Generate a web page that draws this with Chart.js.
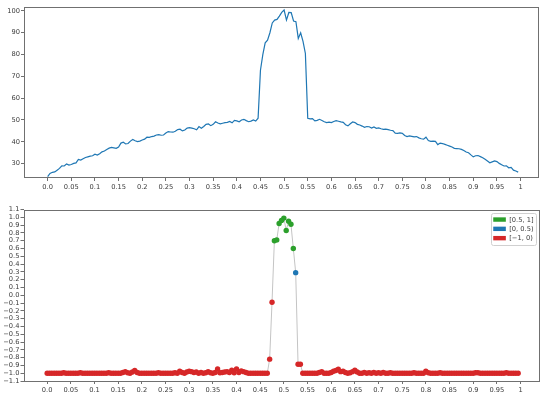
<!DOCTYPE html>
<html><head><meta charset="utf-8">
<script src="https://cdn.jsdelivr.net/npm/chart.js@4"></script>
<style>
html,body{margin:0;padding:0;background:#fff;}
#wrap{position:relative;width:550px;height:397px;overflow:hidden;}
canvas{position:absolute;left:0;}
#c1{top:0}
#c2{top:195px}
</style></head><body>
<div id="wrap"><canvas id="c1" width="550" height="195"></canvas><canvas id="c2" width="550" height="202"></canvas></div>
<script>
const xs=[
0,0.005,0.01,0.015,0.02,0.025,0.03,0.035,0.04,0.045,
0.05,0.055,0.06,0.065,0.07,0.075,0.08,0.085,0.09,0.095,
0.1,0.105,0.11,0.115,0.12,0.125,0.13,0.135,0.14,0.145,
0.15,0.155,0.16,0.165,0.17,0.175,0.18,0.185,0.19,0.195,
0.2,0.205,0.21,0.215,0.22,0.225,0.23,0.235,0.24,0.245,
0.25,0.255,0.26,0.265,0.27,0.275,0.28,0.285,0.29,0.295,
0.3,0.305,0.31,0.315,0.32,0.325,0.33,0.335,0.34,0.345,
0.35,0.355,0.36,0.365,0.37,0.375,0.38,0.385,0.39,0.395,
0.4,0.405,0.41,0.415,0.42,0.425,0.43,0.435,0.44,0.445,
0.45,0.455,0.46,0.465,0.47,0.475,0.48,0.485,0.49,0.495,
0.5,0.505,0.51,0.515,0.52,0.525,0.53,0.535,0.54,0.545,
0.55,0.555,0.56,0.565,0.57,0.575,0.58,0.585,0.59,0.595,
0.6,0.605,0.61,0.615,0.62,0.625,0.63,0.635,0.64,0.645,
0.65,0.655,0.66,0.665,0.67,0.675,0.68,0.685,0.69,0.695,
0.7,0.705,0.71,0.715,0.72,0.725,0.73,0.735,0.74,0.745,
0.75,0.755,0.76,0.765,0.77,0.775,0.78,0.785,0.79,0.795,
0.8,0.805,0.81,0.815,0.82,0.825,0.83,0.835,0.84,0.845,
0.85,0.855,0.86,0.865,0.87,0.875,0.88,0.885,0.89,0.895,
0.9,0.905,0.91,0.915,0.92,0.925,0.93,0.935,0.94,0.945,
0.95,0.955,0.96,0.965,0.97,0.975,0.98,0.985,0.99,0.995];

const topValues=[
24.0,25.5,26.0,26.2,27.0,27.8,29.0,28.9,29.8,29.3,
29.6,30.1,30.3,31.9,31.6,32.2,32.8,33.1,33.4,33.6,
34.3,33.9,34.5,35.4,35.8,36.5,37.1,37.4,37.2,37.0,
37.6,39.4,39.8,39.0,39.2,40.3,41.1,40.5,40.1,40.3,
40.8,41.2,42.1,42.0,42.4,42.6,43.1,43.3,43.0,43.1,
44.0,44.7,44.5,44.4,44.8,45.6,45.8,45.0,45.4,46.3,
46.5,46.3,46.0,45.5,47.0,46.2,47.0,48.0,48.2,47.4,
48.0,49.2,48.6,48.2,48.5,48.8,48.9,49.3,48.7,49.8,
49.6,49.2,50.0,50.3,49.7,49.2,49.5,50.0,49.5,50.8,
72.8,80.0,85.4,86.6,90.0,94.5,95.8,96.1,97.6,99.3,
100.4,95.8,99.3,99.2,95.4,95.1,87.4,90.0,86.0,80.5,
50.8,50.5,50.6,49.6,49.8,50.3,49.8,49.2,48.8,49.0,
48.8,49.3,49.7,49.4,49.1,48.9,47.8,47.3,48.3,49.1,
48.8,48.0,47.7,47.2,46.6,47.0,46.9,46.3,46.8,46.2,
46.4,46.0,45.7,45.8,45.6,45.3,45.1,44.0,43.9,44.1,
43.9,42.9,42.4,42.7,42.5,42.3,42.4,41.8,41.4,41.2,
42.1,40.6,40.2,40.3,40.2,38.7,39.4,39.2,38.8,38.4,
38.0,37.6,37.0,36.9,36.8,36.5,36.0,35.3,35.0,34.0,
33.1,33.6,33.7,33.2,32.7,32.0,31.2,30.4,30.8,31.2,
30.9,30.1,29.5,28.9,29.0,28.1,28.3,27.0,26.6,26.1];

const bottomValues=[
-1,-1,-1,-1,-1,-1,-1,-0.995,-1,-1,
-1,-1,-1,-1,-0.995,-1,-1,-1,-1,-1,
-1,-1,-1,-1,-1,-1,-0.995,-1,-1,-1,
-1,-1,-0.99,-0.98,-0.995,-1,-0.985,-0.965,-0.99,-1,
-1,-1,-1,-1,-1,-1,-1,-0.995,-1,-1,
-1,-1,-1,-1,-0.995,-1,-0.975,-0.99,-1,-0.985,
-0.975,-0.98,-0.99,-0.985,-1,-0.99,-1,-0.995,-0.98,-0.995,
-1,-0.99,-0.945,-0.995,-0.99,-0.985,-0.98,-0.99,-0.96,-0.995,
-0.945,-0.99,-0.97,-0.98,-0.99,-1,-1,-1,-1,-1,
-1,-1,-1,-1,-0.82,-0.09,0.70,0.71,0.92,0.96,
0.99,0.83,0.95,0.91,0.60,0.29,-0.885,-0.885,-1,-1,
-1,-1,-1,-1,-1,-0.99,-0.98,-1,-1,-1,
-0.99,-0.975,-0.965,-0.95,-0.98,-0.975,-0.99,-1,-0.995,-0.98,
-0.96,-0.985,-1,-1,-0.99,-1,-0.995,-1,-0.99,-1,
-0.995,-1,-0.99,-1,-1,-0.995,-1,-1,-1,-1,
-1,-1,-1,-1,-1,-0.995,-1,-1,-1,-1,
-0.975,-0.995,-1,-1,-1,-1,-0.995,-1,-1,-1,
-1,-1,-1,-1,-1,-1,-1,-1,-1,-1,
-1,-0.995,-0.995,-1,-1,-1,-1,-1,-1,-1,
-1,-1,-1,-1,-0.995,-1,-1,-1,-1,-1];

const xTickValues=[0,0.05,0.1,0.15,0.2,0.25,0.3,0.35,0.4,0.45,0.5,0.55,0.6,0.65,0.7,0.75,0.8,0.85,0.9,0.95,1];
const xTickLabels=['0.0','0.05','0.1','0.15','0.2','0.25','0.3','0.35','0.4','0.45','0.5','0.55','0.6','0.65','0.7','0.75','0.8','0.85','0.9','0.95','1'];
const topYTicks=[30,40,50,60,70,80,90,100];
const topYLabels=['30','40','50','60','70','80','90','100'];
const bottomYTicks=[-1.1,-1.0,-0.9,-0.8,-0.7,-0.6,-0.5,-0.4,-0.3,-0.2,-0.1,0,0.1,0.2,0.3,0.4,0.5,0.6,0.7,0.8,0.9,1.0,1.1];
const bottomYLabels=['\u22121.1','\u22121.0','\u22120.9','\u22120.8','\u22120.7','\u22120.6','\u22120.5','\u22120.4','\u22120.3','\u22120.2','\u22120.1','0.0','0.1','0.2','0.3','0.4','0.5','0.6','0.7','0.8','0.9','1.0','1.1'];
const binLabels=['[0.5, 1]','[0, 0.5)','[\u22121, 0)'];
const binLows=[0.5,0,-1];
const binColors=['#2ca02c','#1f77b4','#d62728'];

const FONT={family:'DejaVu Sans',size:6.7};
const TXT='#3a3a3a';
const EDGE='#707070';

const framePlugin={id:'frame',afterDraw(c){const a=c.chartArea,ctx=c.ctx;ctx.save();ctx.strokeStyle=EDGE;ctx.lineWidth=1;
ctx.strokeRect(Math.round(a.left)+0.5,Math.round(a.top)+0.5,Math.round(a.right-a.left)-1,Math.round(a.bottom-a.top)-1);ctx.restore();}};

function binColor(v){for(let i=0;i<binLows.length;i++){if(v>=binLows[i])return binColors[i];}return binColors[binColors.length-1];}

const legendPlugin={id:'binLegend',afterDraw(c){const a=c.chartArea,ctx=c.ctx;ctx.save();
ctx.font='6.7px "DejaVu Sans"';
let tw=0;binLabels.forEach(l=>{tw=Math.max(tw,ctx.measureText(l).width);});
const pad=2.4,hl=12.6,htp=3.4,rowH=9.3;
const w=pad+hl+htp+tw+pad, h=pad*2+rowH*binLabels.length-1;
const x0=a.right-3-w, y0=a.top+3;
ctx.fillStyle='rgba(255,255,255,0.85)';ctx.strokeStyle='#d0d0d0';ctx.lineWidth=1;
ctx.beginPath();ctx.roundRect(Math.round(x0)+0.5,Math.round(y0)+0.5,Math.round(w),Math.round(h),2);ctx.fill();ctx.stroke();
binLabels.forEach((l,i)=>{const cy=y0+pad+rowH*i+rowH/2;
ctx.fillStyle=binColors[i];ctx.fillRect(x0+pad,cy-2.2,hl,4.4);
ctx.fillStyle=TXT;ctx.textBaseline='middle';ctx.textAlign='left';ctx.fillText(l,x0+pad+hl+htp,cy+0.5);});
ctx.restore();}};

function xScale(h){return {type:'linear',min:-0.05,max:1.039,
 afterBuildTicks:s=>{s.ticks=xTickValues.map(v=>({value:v}));},
 afterFit:s=>{s.height=h;},
 border:{display:false},
 grid:{drawOnChartArea:false,drawTicks:true,tickLength:3,tickColor:EDGE,tickWidth:1},
 ticks:{autoSkip:false,maxRotation:0,minRotation:0,padding:2,color:TXT,font:FONT,callback:(v,i)=>xTickLabels[i]}};}

function yScale(min,max,vals,labels,w){return {type:'linear',min:min,max:max,
 afterBuildTicks:s=>{s.ticks=vals.map(v=>({value:v}));},
 afterFit:s=>{s.width=w;},
 border:{display:false},
 grid:{drawOnChartArea:false,drawTicks:true,tickLength:3,tickColor:EDGE,tickWidth:1},
 ticks:{autoSkip:false,padding:1,color:TXT,font:FONT,callback:(v,i)=>labels[i]}};}

new Chart(document.getElementById('c1'),{type:'line',
 data:{datasets:[{data:xs.map((x,i)=>({x:x,y:topValues[i]})),borderColor:'#1f77b4',borderWidth:1.2,pointRadius:0,tension:0,fill:false}]},
 options:{responsive:false,animation:false,devicePixelRatio:1,
  layout:{padding:{left:0,right:11,top:7,bottom:0}},
  plugins:{legend:{display:false},tooltip:{enabled:false}},
  scales:{x:xScale(17),y:yScale(23.4,101.8,topYTicks,topYLabels,24)}},
 plugins:[framePlugin]});

new Chart(document.getElementById('c2'),{type:'line',
 data:{datasets:[{data:xs.map((x,i)=>({x:x,y:bottomValues[i]})),borderColor:'#c4c4c4',borderWidth:1,tension:0,fill:false,
  pointRadius:2.7,pointBorderWidth:0,pointBackgroundColor:ctx=>binColor(ctx.raw?ctx.raw.y:-1)}]},
 options:{responsive:false,animation:false,devicePixelRatio:1,
  layout:{padding:{left:0,right:11,top:14.5,bottom:0}},
  plugins:{legend:{display:false},tooltip:{enabled:false}},
  scales:{x:xScale(16),y:yScale(-1.1,1.1,bottomYTicks,bottomYLabels,23.5)}},
 plugins:[framePlugin,legendPlugin]});
</script>
</body></html>
